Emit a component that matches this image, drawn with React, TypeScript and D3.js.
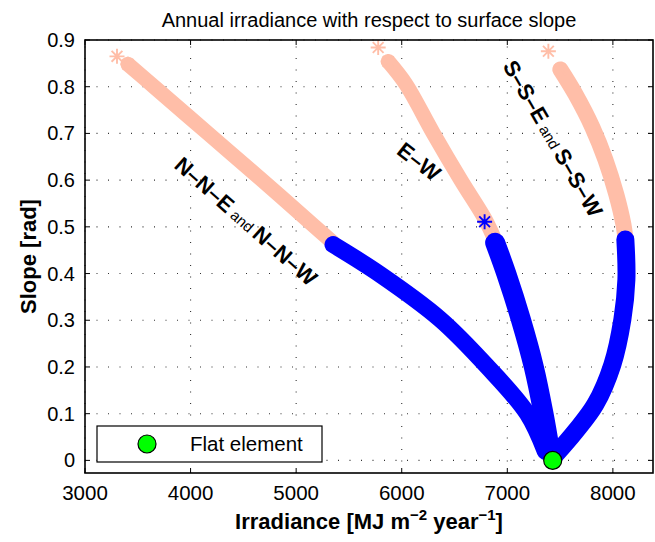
import React from "react";
import * as d3 from "d3";

const W = 655;
const H = 542;

const titleText = "Annual irradiance with respect to surface slope";
const xTicks = [3000, 4000, 5000, 6000, 7000, 8000];
const yTicks = [0, 0.1, 0.2, 0.3, 0.4, 0.5, 0.6, 0.7, 0.8, 0.9];
const yTickLabels = ["0", "0.1", "0.2", "0.3", "0.4", "0.5", "0.6", "0.7", "0.8", "0.9"];

// N-N-E and N-N-W orientation
const nneHighIrr = [3407, 3654, 4165, 4677, 5179, 5349];
const nneHighSlope = [0.848, 0.8, 0.7, 0.6, 0.5, 0.466];
const nneLowIrr = [5349, 5796, 6365, 6810, 7190, 7360];
const nneLowSlope = [0.462, 0.398, 0.302, 0.201, 0.1, 0.019];

// E-W orientation
const ewHighIrr = [5872, 6040, 6300, 6560, 6790, 6880];
const ewHighSlope = [0.854, 0.805, 0.7, 0.6, 0.516, 0.473];
const ewLowIrr = [6885, 6990, 7128, 7250, 7343, 7405];
const ewLowSlope = [0.466, 0.4, 0.302, 0.201, 0.1, 0.019];

// S-S-E and S-S-W orientation
const sseHighIrr = [7502, 7645, 7806, 7929, 8033, 8100, 8118];
const sseHighSlope = [0.837, 0.784, 0.713, 0.644, 0.569, 0.505, 0.477];
const sseLowIrr = [8118, 8128, 8090, 7995, 7834, 7645, 7455];
const sseLowSlope = [0.473, 0.387, 0.302, 0.205, 0.12, 0.062, 0.012];

// isolated markers
const salmonStarIrr = [3303, 5777, 7389];
const salmonStarSlope = [0.865, 0.884, 0.876];
const blueStarIrr = [5349, 6785];
const blueStarSlope = [0.462, 0.511];

const flatIrr = [7430];
const flatSlope = [0];

const SALMON = "#FFBEA8";
const BLUE = "#0000FF";
const FONT = "'Liberation Sans', Arial, sans-serif";

const zip = (xs: number[], ys: number[]) => xs.map((v, i) => [v, ys[i]] as [number, number]);

export default function App() {
  const x = d3.scaleLinear().domain([3000, 8380]).range([85, 653]);
  const y = d3.scaleLinear().domain([-0.027, 0.9]).range([473, 40]);
  const line = d3
    .line<[number, number]>()
    .x((d) => x(d[0]))
    .y((d) => y(d[1]))
    .curve(d3.curveCatmullRom);

  const star = (cx: number, cy: number, s: number, color: string, key: string) => {
    const k = s * 0.72;
    const d = `M${cx - s},${cy}L${cx + s},${cy}M${cx},${cy - s}L${cx},${cy + s}M${cx - k},${cy - k}L${cx + k},${cy + k}M${cx - k},${cy + k}L${cx + k},${cy - k}`;
    return <path key={key} d={d} stroke={color} strokeWidth={1.9} fill="none" />;
  };

  const salmonBands = [
    { d: zip(nneHighIrr, nneHighSlope), w: 15 },
    { d: zip(ewHighIrr, ewHighSlope), w: 15 },
    { d: zip(sseHighIrr, sseHighSlope), w: 16 },
  ];
  const blueBands = [
    { d: zip(nneLowIrr, nneLowSlope), w: 17 },
    { d: zip(ewLowIrr, ewLowSlope), w: 20 },
    { d: zip(sseLowIrr, sseLowSlope), w: 18 },
  ];

  const [x0, x1] = x.range();
  const [yb, yt] = y.range();

  const annotations = [
    { irr: 4512, slope: 0.509, angle: 41.5, big1: "N\u2013N\u2013E", big2: "N\u2013N\u2013W" },
    { irr: 7417, slope: 0.687, angle: 60, big1: "S\u2013S\u2013E", big2: "S\u2013S\u2013W" },
  ];

  return (
    <svg
      width={W}
      height={H}
      style={{ position: "absolute", left: 0, top: 0, background: "#fff" }}
      fontFamily={FONT}
    >
      <rect x={0} y={0} width={W} height={H} fill="#fff" />
      {/* grid */}
      {xTicks.map((t) => (
        <line key={"gx" + t} x1={x(t)} x2={x(t)} y1={yb} y2={yt} stroke="#333" strokeWidth={1.1} strokeDasharray="1,10.5" />
      ))}
      {yTicks.map((t) => (
        <line key={"gy" + t} x1={x0} x2={x1} y1={y(t)} y2={y(t)} stroke="#333" strokeWidth={1.1} strokeDasharray="1,10.5" />
      ))}

      {/* bands */}
      {salmonBands.map((b, i) => (
        <path key={"sb" + i} d={line(b.d) || ""} stroke={SALMON} strokeWidth={b.w} fill="none" strokeLinecap="round" strokeLinejoin="round" />
      ))}
      {salmonBands.map((b, i) => star(x(b.d[0][0]), y(b.d[0][1]), 7.5, SALMON, "sbs" + i))}
      {salmonStarIrr.map((v, i) => star(x(v), y(salmonStarSlope[i]), 7.5, SALMON, "ss" + i))}
      {blueBands.map((b, i) => (
        <path key={"bb" + i} d={line(b.d) || ""} stroke={BLUE} strokeWidth={b.w} fill="none" strokeLinecap="round" strokeLinejoin="round" />
      ))}
      {blueStarIrr.map((v, i) => star(x(v), y(blueStarSlope[i]), 7.5, BLUE, "bs" + i))}

      {/* flat element */}
      {flatIrr.map((v, i) => (
        <circle key={"f" + i} cx={x(v)} cy={y(flatSlope[i])} r={9} fill="#00FF00" stroke="#000" strokeWidth={1.2} />
      ))}

      {/* annotations */}
      {annotations.map((a, i) => (
        <text
          key={"an" + i}
          transform={`translate(${x(a.irr)},${y(a.slope)}) rotate(${a.angle})`}
          textAnchor="middle"
          dy="0.36em"
          fill="#000"
        >
          <tspan fontWeight="bold" fontSize={22}>{a.big1}</tspan>
          <tspan fontSize={15}>{" and "}</tspan>
          <tspan fontWeight="bold" fontSize={22}>{a.big2}</tspan>
        </text>
      ))}
      <text
        transform={`translate(${x(6166)},${y(0.64)}) rotate(38)`}
        textAnchor="middle"
        dy="0.36em"
        fontWeight="bold"
        fontSize={22}
      >
        {"E\u2013W"}
      </text>

      {/* frame */}
      <rect x={x0} y={yt} width={x1 - x0} height={yb - yt} fill="none" stroke="#000" strokeWidth={1.6} />
      {xTicks.map((t) => (
        <g key={"tx" + t}>
          <line x1={x(t)} x2={x(t)} y1={yb} y2={yb - 5} stroke="#000" strokeWidth={1} />
          <line x1={x(t)} x2={x(t)} y1={yt} y2={yt + 5} stroke="#000" strokeWidth={1} />
          <text x={x(t)} y={500} textAnchor="middle" fontSize={20.5}>{t}</text>
        </g>
      ))}
      {yTicks.map((t, i) => (
        <g key={"ty" + t}>
          <line x1={x0} x2={x0 + 5} y1={y(t)} y2={y(t)} stroke="#000" strokeWidth={1} />
          <line x1={x1} x2={x1 - 5} y1={y(t)} y2={y(t)} stroke="#000" strokeWidth={1} />
          <text x={75} y={y(t)} dy="0.35em" textAnchor="end" fontSize={20}>{yTickLabels[i]}</text>
        </g>
      ))}

      {/* legend */}
      <rect x={97} y={426} width={225} height={36} fill="#fff" stroke="#000" strokeWidth={1.2} />
      <circle cx={147} cy={444} r={9} fill="#00FF00" stroke="#000" strokeWidth={1.2} />
      <text x={190} y={444} dy="0.36em" fontSize={20.5}>Flat element</text>

      {/* title and axis labels */}
      <text x={(x0 + x1) / 2} y={27} textAnchor="middle" fontSize={20}>{titleText}</text>
      <text x={(x0 + x1) / 2} y={529} textAnchor="middle" fontSize={22} fontWeight="bold">
        <tspan>Irradiance [MJ m</tspan>
        <tspan fontSize={15} dy={-9}>{"\u22122"}</tspan>
        <tspan dy={9}> year</tspan>
        <tspan fontSize={15} dy={-9}>{"\u22121"}</tspan>
        <tspan dy={9}>]</tspan>
      </text>
      <text transform={`translate(36,${(yb + yt) / 2}) rotate(-90)`} textAnchor="middle" fontSize={22} fontWeight="bold">
        Slope [rad]
      </text>
    </svg>
  );
}
